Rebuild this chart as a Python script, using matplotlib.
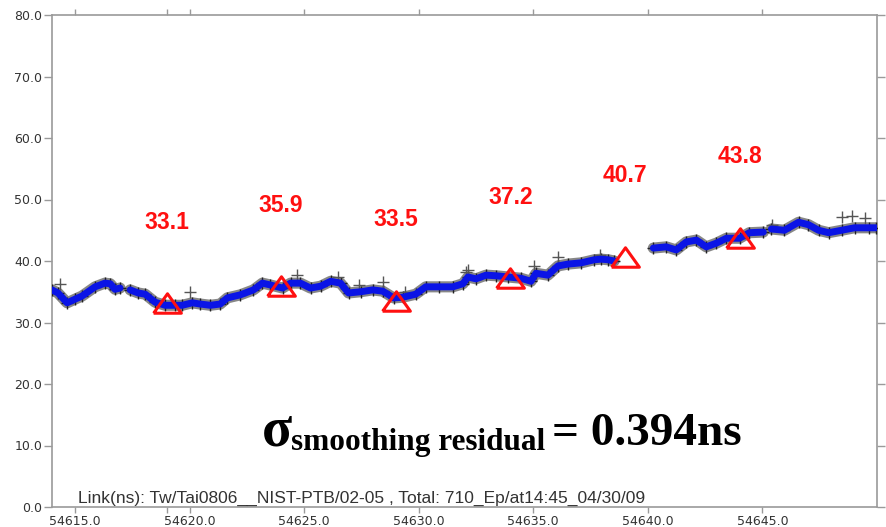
import matplotlib as mpl
import matplotlib.pyplot as plt
import numpy as np

mpl.rcParams["font.family"] = "Liberation Sans"

nan = np.nan
# smoothed link values (MJD, ns); nan marks a data gap
mjd = [54614.00, 54614.26, 54614.66, 54615.01, 54615.31, 54615.88, 54616.31, 54616.54,
       54616.75, 54616.97, nan,
       54617.41, 54617.76, 54618.07, 54618.50, 54618.94, 54619.38, 54619.68, 54620.12,
       54620.47, 54620.91, 54621.34, 54621.65, 54622.22, 54622.79, 54623.18, 54623.53,
       54624.06, 54624.41, 54624.84, 54625.28, 54625.72, 54626.16, 54626.59, 54626.94,
       54627.47, 54627.99, 54628.43, 54628.91, 54629.30, 54629.87, 54630.31, 54630.88,
       54631.49, 54631.93, 54632.15, 54632.50, 54632.94, 54633.37, 54633.90, 54634.46,
       54634.90, 54635.12, 54635.64, 54636.08, 54636.52, 54637.09, 54637.66, 54637.96,
       54638.27, 54638.53, nan,
       54640.24, 54640.80, 54641.24, 54641.68, 54642.12, 54642.55, 54642.99, 54643.43,
       54644.00, 54644.43, 54645.04, nan,
       54645.39, 54645.96, 54646.58, 54647.01, 54647.45, 54647.89, 54648.46, 54649.02,
       54649.64, 54649.95]
link_ns = [35.3, 34.8, 33.2, 33.8, 34.3, 35.8, 36.4, 36.3, 35.4, 35.6, nan,
           35.3, 34.8, 34.6, 33.3, 32.8, 32.8, 32.8, 33.2, 33.0, 32.8, 33.0, 34.0, 34.5,
           35.3, 36.4, 36.1, 35.6, 36.4, 36.4, 35.6, 35.9, 36.7, 36.4, 34.8, 35.0, 35.3,
           35.1, 34.0, 34.1, 34.6, 35.8, 35.8, 35.8, 36.3, 37.4, 37.1, 37.7, 37.6, 37.4,
           37.2, 36.7, 38.0, 37.7, 39.2, 39.5, 39.7, 40.2, 40.3, 40.2, 40.0, nan,
           42.1, 42.3, 41.8, 43.1, 43.4, 42.3, 42.9, 43.7, 43.7, 44.6, 44.7, nan,
           45.2, 45.0, 46.3, 45.9, 45.0, 44.6, 45.0, 45.4, 45.4, 45.4]

# raw points lying off the smoothed band
out_mjd = [54614.35, 54620.03, 54624.70, 54626.46, 54627.40, 54628.43, 54629.40,
           54632.06, 54632.15, 54635.03, 54636.10, 54637.90, 54645.40, 54648.46,
           54648.90, 54649.46]
out_ns = [36.3, 35.0, 37.7, 37.4, 36.1, 36.6, 35.0, 38.2, 38.5, 39.2, 40.6, 41.0,
          45.8, 47.2, 47.3, 47.0]

# clock-comparison points (red triangles)
tri_mjd = [54619.0, 54624.0, 54629.0, 54634.0, 54639.0, 54644.0]
tri_ns = [33.1, 35.9, 33.5, 37.2, 40.7, 43.8]
tri_labels = ["33.1", "35.9", "33.5", "37.2", "40.7", "43.8"]

LABEL_OFFSET = 13.2
SPINE_COLOR = "#9a9a9a"
TEXT_COLOR = "#333333"

fig = plt.figure(figsize=(8.87, 5.27), dpi=100)
ax = fig.add_axes([52 / 887, 20 / 527, 825 / 887, 492 / 527])

x = np.array(mjd)
y = np.array(link_ns)
ax.plot(x, y, color="#111111", linewidth=8, alpha=0.5, solid_capstyle="round", zorder=2)
ax.plot(x, y, "+", color="#222222", markersize=8, markeredgewidth=1.0, zorder=3)
ax.plot(x, y, color="#0a14e6", linewidth=5, solid_capstyle="round", zorder=4)
ax.plot(out_mjd, out_ns, "+", color="#555555", markersize=9, markeredgewidth=1.0, zorder=3)

tri_marker = [(-1, -0.7), (1, -0.7), (0, 0.7), (-1, -0.7)]
ax.plot(tri_mjd, tri_ns, linestyle="none", marker=tri_marker, markersize=20,
        markerfacecolor="none", markeredgecolor="#ff1010", markeredgewidth=2.2, zorder=5)
for xm, ym, lab in zip(tri_mjd, tri_ns, tri_labels):
    ax.text(xm, ym + LABEL_OFFSET, lab, color="#ff1010", fontsize=16.5, fontweight="bold",
            ha="center", va="center")

ax.set_xlim(54614.0, 54650.0)
ax.set_ylim(0, 80)
ax.set_xticks(np.arange(54615, 54646, 5))
ax.set_xticks([54619.0], minor=True)
ax.set_yticks(np.arange(0, 81, 10))
ax.xaxis.set_major_formatter(mpl.ticker.FormatStrFormatter("%.1f"))
ax.yaxis.set_major_formatter(mpl.ticker.FormatStrFormatter("%.1f"))
ax.tick_params(axis="both", which="both", direction="out", color=SPINE_COLOR,
               width=1.0, top=True, right=True, labelcolor=TEXT_COLOR)
ax.tick_params(axis="y", which="major", length=6, pad=1, labelsize=9)
ax.tick_params(axis="x", which="both", length=4, pad=2, labelsize=9)
for lab in ax.get_xticklabels() + ax.get_yticklabels():
    lab.set_family("DejaVu Sans")
for sp in ax.spines.values():
    sp.set_color(SPINE_COLOR)
    sp.set_linewidth(1.2)

ax.text(0.0315, 0.009, "Link(ns): Tw/Tai0806__NIST-PTB/02-05 , Total: 710_Ep/at14:45_04/30/09",
        transform=ax.transAxes, fontsize=12.5, color=TEXT_COLOR, va="baseline", ha="left")

serif = "Liberation Serif"
fig.text(262 / 887, (527 - 445) / 527, "σ", family=serif, fontweight="bold", fontsize=40,
         va="baseline", ha="left")
fig.text(291 / 887, (527 - 450) / 527, "smoothing residual", family=serif, fontweight="bold",
         fontsize=22.5, va="baseline", ha="left")
fig.text(552 / 887, (527 - 445) / 527, "= 0.394ns", family=serif, fontweight="bold",
         fontsize=34, va="baseline", ha="left")

fig.savefig("out.png", dpi=100)
